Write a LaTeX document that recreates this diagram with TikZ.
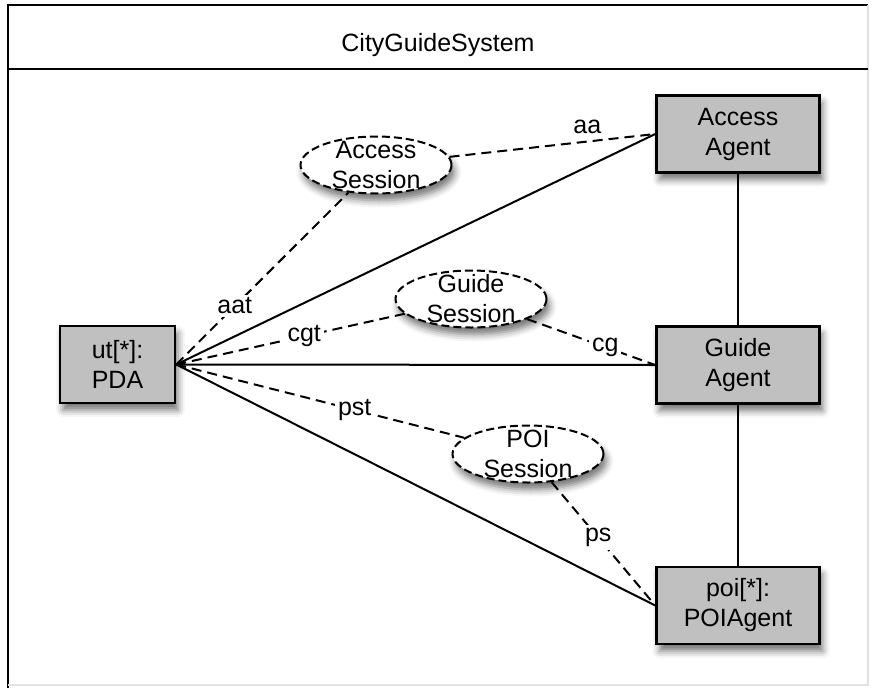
\documentclass[tikz,border=0pt]{standalone}
\usepackage{fontspec}
\setmainfont{Liberation Sans}
\usetikzlibrary{shapes.geometric, shadows.blur}
\definecolor{boxgray}{RGB}{192,192,192}
\definecolor{edgegray}{RGB}{225,225,225}

\begin{document}
\begin{tikzpicture}[x=1pt, y=-1pt,
        font=\fontsize{25}{30}\selectfont,
        agent/.style={rectangle, draw, line width=2.5pt, fill=boxgray, minimum width=163pt, minimum height=77pt, inner sep=0pt, align=center, blur shadow={shadow xshift=3pt, shadow yshift=-7pt, shadow blur radius=7pt, shadow opacity=55}},
        sess/.style={ellipse, draw, line width=2pt, dash pattern=on 8pt off 4pt, fill=white, minimum width=151pt, minimum height=57pt, inner sep=0pt, blur shadow={shadow xshift=3pt, shadow yshift=-7pt, shadow blur radius=7pt, shadow opacity=55}},
        conn/.style={line width=2pt},
        dconn/.style={line width=2pt, dash pattern=on 10pt off 6pt},
        lbl/.style={fill=white, inner sep=3pt}]
        \useasboundingbox (0,0) rectangle (874,688);

        \draw[line width=2.5pt] (8,688) -- (8,5) -- (868,5);
        \draw[edgegray, line width=2pt] (868,5) -- (868,685) -- (8,685);
        \draw[line width=2.5pt] (8,69) -- (868,69);
        \node (title) at (438,45) {CityGuideSystem};

        \node[agent, minimum width=115pt] (ut) at (117.5,364.5) {ut[*]:\\PDA};
        \node[agent] (acc) at (738,134) {Access\\Agent};
        \node[agent] (gd) at (738,365) {Guide\\Agent};
        \node[agent] (poi) at (738,605.5) {poi[*]:\\POIAgent};

        \node[sess, label={[align=center]center:Access\\Session}] (accs) at (376,165) {};
        \node[sess, label={[align=center]center:Guide\\Session}] (gds) at (471,299) {};
        \node[sess, label={[align=center]center:POI\\Session}] (pois) at (528,454) {};

        \draw[conn] (acc) to (gd);
        \draw[conn] (gd) to (poi);
        \draw[conn] (ut.east) to (acc.west);
        \draw[conn] (ut.east) to (gd.west);
        \draw[conn] (ut.east) to (poi.west);

        \draw[dconn] (ut.east) to node[lbl, pos=0.34] {aat} (accs);
        \draw[dconn] (accs) to node[lbl, pos=0.67, above=4pt, fill=none] {aa} (acc.west);
        \draw[dconn] (ut.east) to node[lbl, pos=0.56] {cgt} (gds);
        \draw[dconn] (gds) to node[lbl, pos=0.61] {cg} (gd.west);
        \draw[dconn] (ut.east) to node[lbl, pos=0.62] {pst} (pois);
        \draw[dconn] (pois) to node[lbl, pos=0.45] {ps} (poi.west);

    \end{tikzpicture}
\end{document}
